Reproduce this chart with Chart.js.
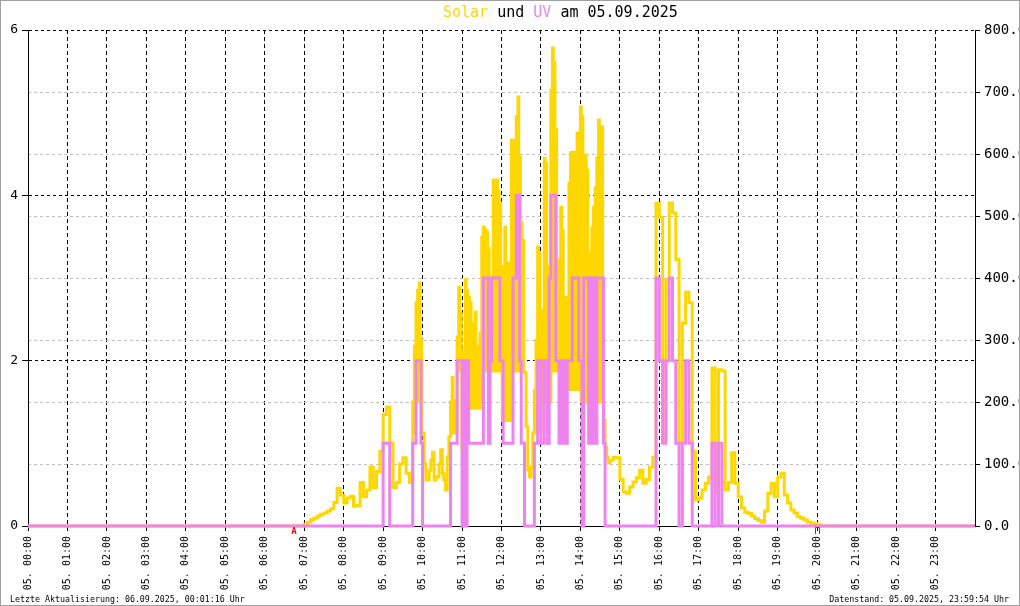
<!DOCTYPE html>
<html>
<head>
<meta charset="utf-8">
<script src="https://cdn.jsdelivr.net/npm/chart.js@4.4.1/dist/chart.umd.min.js"></script>
<style>
    html, body { margin: 0; padding: 0; background: #fff; }
    #wrap { width: 1020px; height: 606px; }
</style>
</head>
<body>
<div id="wrap"><canvas id="chart" width="1020" height="606"></canvas></div>
<script>
// minutes since midnight
const morningStart = 410;   // 06:50, 5 min steps
const morningStep = 5;
const solarMorning = [
    0, 0, 3, 6, 10, 13, 16, 19, 21, 24,
    28, 38, 61, 50, 37, 45, 48, 32, 33, 70,
    47, 58, 95, 62, 88, 120, 180, 192, 134, 62,
    70, 100, 110, 85, 70
];
const uvMorning = [
    0, 0, 0, 0, 0, 0, 0, 0, 0, 0,
    0, 0, 0, 0, 0, 0, 0, 0, 0, 0,
    0, 0, 0, 0, 0, 0, 1, 1, 0, 0,
    0, 0, 0, 0, 0
];

// 09:45 - 14:45, 2.5 min steps; max and min inside each step
const middayStart = 585;
const middayStep = 2.5;
const solarMidday = [
    200, 290, 360, 380, 392, 300, 150, 100, 74, 74,
    90, 106, 119, 74, 80, 79, 100, 123, 85, 74,
    58, 111, 144, 200, 240, 171, 203, 305, 385, 343,
    123, 284, 397, 380, 369, 360, 327, 284, 345, 289,
    256, 311, 466, 482, 478, 474, 448, 400, 337, 558,
    537, 558, 540, 521, 289, 418, 482, 385, 424, 171,
    622, 622, 622, 660, 692, 595, 489, 461, 247, 160,
    90, 79, 95, 150, 219, 300, 450, 440, 289, 348,
    593, 585, 364, 418, 703, 771, 747, 639, 429, 337,
    514, 477, 305, 369, 364, 553, 602, 603, 603, 542,
    634, 472, 676, 660, 482, 598, 574, 332, 440, 481,
    514, 545, 594, 655, 644, 644, 171, 127, 110, 102
];
const solarMiddayLow = [
    150, 150, 200, 250, 250, 150, 150, 100, 74, 74,
    90, 106, 119, 74, 80, 79, 100, 123, 85, 74,
    58, 111, 144, 150, 150, 150, 150, 250, 250, 250,
    123, 190, 200, 190, 200, 190, 200, 190, 200, 190,
    190, 200, 250, 250, 250, 250, 250, 250, 250, 250,
    250, 250, 250, 250, 170, 170, 170, 170, 170, 171,
    250, 250, 250, 250, 250, 250, 250, 250, 247, 160,
    90, 79, 95, 150, 150, 150, 150, 150, 200, 200,
    200, 200, 200, 200, 250, 250, 250, 250, 250, 250,
    220, 220, 220, 220, 220, 220, 220, 220, 220, 220,
    220, 220, 200, 200, 200, 200, 200, 200, 200, 200,
    200, 200, 200, 200, 200, 200, 171, 127, 110, 102
];
const uvMidday = [
    1, 1, 2, 2, 2, 1, 0, 0, 0, 0,
    0, 0, 0, 0, 0, 0, 0, 0, 0, 0,
    0, 0, 0, 1, 1, 1, 1, 2, 2, 2,
    0, 2, 0, 2, 1, 1, 1, 1, 1, 1,
    1, 1, 1, 3, 3, 3, 1, 2, 3, 3,
    3, 3, 3, 2, 2, 1, 1, 1, 1, 1,
    1, 3, 3, 4, 4, 2, 1, 1, 0, 0,
    0, 0, 0, 0, 1, 1, 2, 2, 1, 1,
    2, 2, 1, 3, 4, 4, 4, 2, 2, 1,
    2, 1, 2, 1, 2, 2, 2, 3, 3, 3,
    3, 2, 2, 0, 3, 3, 3, 1, 3, 1,
    3, 1, 3, 3, 3, 3, 1, 0, 0, 0
];

const afternoonStart = 885; // 14:45, 5 min steps
const afternoonStep = 5;
const solarAfternoon = [
    106, 111, 110, 75, 55, 53, 63, 71, 78, 90,
    69, 75, 95, 111, 520, 498, 139, 397, 521, 505,
    430, 134, 327, 377, 360, 120, 42, 45, 58, 69,
    79, 255, 55, 252, 250, 58, 70, 118, 69, 47,
    29, 22, 20, 16, 12, 9, 6, 24, 53, 69,
    47, 79, 85, 50, 37, 26, 21, 15, 13, 10,
    6, 5, 4, 2, 0
];
const uvAfternoon = [
    0, 0, 0, 0, 0, 0, 0, 0, 0, 0,
    0, 0, 0, 0, 3, 2, 1, 2, 3, 2,
    1, 0, 1, 2, 1, 0, 0, 0, 0, 0,
    0, 1, 0, 1, 0, 0, 0, 0, 0, 0,
    0, 0, 0, 0, 0, 0, 0, 0, 0, 0,
    0, 0, 0, 0, 0, 0, 0, 0, 0, 0,
    0, 0, 0, 0, 0
];

const hourTicks = [0, 1, 2, 3, 4, 5, 6, 7, 8, 9, 10, 11, 12, 13, 14, 15, 16, 17, 18, 19, 20, 21, 22, 23];
const uvTicks = [0, 2, 4, 6];
const solarTicks = [0, 100, 200, 300, 400, 500, 600, 700, 800];
const sunEvents = [
    { label: 'A', time: 405 },
    { label: 'U', time: 1200 },
];

const SOLAR = '#ffd700';
const UV = '#ee82ee';
const MONO = '"DejaVu Sans Mono", "Liberation Mono", monospace';

function buildSeries(parts) {
    const pts = [{ x: 0, y: 0 }];
    parts.forEach(([start, step, values, lows]) => {
        values.forEach((v, i) => {
            const t = start + i * step;
            pts.push({ x: t, y: v });
            if (lows && lows[i] !== v) {
                pts.push({ x: t + step / 2, y: lows[i] });
            }
        });
    });
    pts.push({ x: 1440, y: 0 });
    return pts;
}

const solarData = buildSeries([
    [morningStart, morningStep, solarMorning],
    [middayStart, middayStep, solarMidday, solarMiddayLow],
    [afternoonStart, afternoonStep, solarAfternoon],
]);
const uvData = buildSeries([
    [morningStart, morningStep, uvMorning],
    [middayStart, middayStep, uvMidday],
    [afternoonStart, afternoonStep, uvAfternoon],
]);

const decor = {
    id: 'decor',
    afterDraw(chart) {
        const ctx = chart.ctx;
        const xs = chart.scales.x;
        ctx.save();

        // title
        ctx.font = `15px ${MONO}`;
        ctx.textBaseline = 'middle';
        ctx.textAlign = 'left';
        let x = 443;
        [['Solar', SOLAR], [' und ', '#000'], ['UV', UV], [' am 05.09.2025', '#000']].forEach(([t, c]) => {
            ctx.fillStyle = c;
            ctx.fillText(t, x, 13);
            x += ctx.measureText(t).width;
        });

        // footer
        ctx.font = `8.3px ${MONO}`;
        ctx.fillStyle = '#000';
        ctx.textBaseline = 'alphabetic';
        ctx.fillText('Letzte Aktualisierung: 06.09.2025, 00:01:16 Uhr', 10, 602);
        ctx.textAlign = 'right';
        ctx.fillText('Datenstand: 05.09.2025, 23:59:54 Uhr', 1009, 602);

        // sunrise / sunset marks
        ctx.strokeStyle = '#ff0000';
        ctx.fillStyle = '#ff0000';
        ctx.lineWidth = 1;
        sunEvents.forEach((ev) => {
            const px = Math.round(xs.getPixelForValue(ev.time));
            if (ev.label === 'A') {
                ctx.font = `bold 9px ${MONO}`;
                ctx.textAlign = 'center';
                ctx.textBaseline = 'middle';
                ctx.fillText(ev.label, px, 532);
            } else {
                ctx.beginPath();
                ctx.moveTo(px - 1.5, 534);
                ctx.lineTo(px - 1.5, 527.5);
                ctx.lineTo(px + 2.5, 527.5);
                ctx.lineTo(px + 2.5, 534);
                ctx.stroke();
            }
        });

        // frame
        ctx.strokeStyle = '#a0a0a0';
        ctx.strokeRect(0.5, 0.5, 1019, 605);
        ctx.restore();
    },
};

new Chart(document.getElementById('chart'), {
    type: 'line',
    data: {
        datasets: [
            {
                label: 'UV',
                data: uvData,
                yAxisID: 'yUV',
                borderColor: UV,
                borderWidth: 3,
                stepped: true,
                pointRadius: 0,
                fill: false,
                clip: { left: 0, right: 0, top: 3, bottom: 3 },
                order: 1,
            },
            {
                label: 'Solar',
                data: solarData,
                yAxisID: 'ySolar',
                borderColor: SOLAR,
                borderWidth: 3,
                stepped: true,
                pointRadius: 0,
                fill: false,
                clip: { left: 0, right: 0, top: 3, bottom: 3 },
                order: 2,
            },
        ],
    },
    options: {
        responsive: false,
        devicePixelRatio: 1,
        animation: false,
        layout: { padding: { top: 30, left: 0, right: 0, bottom: 0 } },
        plugins: {
            legend: { display: false },
            tooltip: { enabled: false },
            title: { display: false },
        },
        scales: {
            x: {
                type: 'linear',
                position: 'bottom',
                min: 0,
                max: 1440,
                z: 1,
                afterBuildTicks: (s) => { s.ticks = hourTicks.map((h) => ({ value: h * 60 })); },
                afterFit: (s) => { s.height = 80; },
                ticks: {
                    autoSkip: false,
                    minRotation: 90,
                    maxRotation: 90,
                    padding: 5,
                    color: '#000',
                    font: { family: MONO, size: 10 },
                    callback: (v) => `05. ${String(v / 60).padStart(2, '0')}:00`,
                },
                grid: {
                    color: (c) => (c.tick && c.tick.value > 0 ? '#000' : 'rgba(0,0,0,0)'),
                    lineWidth: 1,
                    tickLength: 5,
                    tickColor: '#000',
                    tickBorderDash: [],
                },
                border: { display: true, color: '#000', width: 1, dash: [4, 3] },
            },
            yUV: {
                type: 'linear',
                position: 'left',
                min: 0,
                max: 6,
                z: 1,
                afterBuildTicks: (s) => { s.ticks = uvTicks.map((v) => ({ value: v })); },
                afterFit: (s) => { s.width = 28; },
                ticks: {
                    padding: 4,
                    color: '#000',
                    font: { family: MONO, size: 13 },
                    callback: (v) => String(v),
                },
                grid: {
                    color: (c) => (c.tick && c.tick.value > 0 ? '#000' : 'rgba(0,0,0,0)'),
                    lineWidth: 1,
                    tickLength: 6,
                    tickColor: '#000',
                    tickBorderDash: [],
                },
                border: { display: true, color: '#000', width: 1, dash: [3, 3] },
            },
            ySolar: {
                type: 'linear',
                position: 'right',
                min: 0,
                max: 800,
                z: 1,
                afterBuildTicks: (s) => { s.ticks = solarTicks.map((v) => ({ value: v })); },
                afterFit: (s) => { s.width = 45; },
                ticks: {
                    padding: 4,
                    color: '#000',
                    font: { family: MONO, size: 14 },
                    callback: (v) => v.toFixed(1),
                },
                grid: {
                    color: (c) => (c.tick && c.tick.value > 0 && c.tick.value < 800 ? '#c0c0c0' : 'rgba(0,0,0,0)'),
                    lineWidth: 1,
                    tickLength: 5,
                    tickColor: '#000',
                    tickBorderDash: [],
                },
                border: { display: true, color: '#000', width: 1, dash: [3, 3] },
            },
        },
    },
    plugins: [decor],
});
</script>
</body>
</html>
